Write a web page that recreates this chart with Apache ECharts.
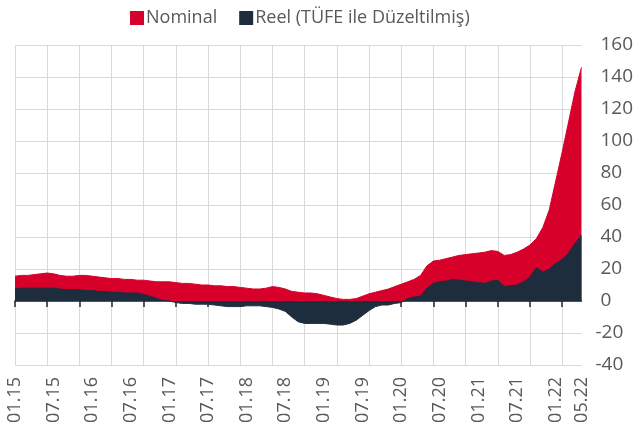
<!DOCTYPE html>
<html>
<head>
<meta charset="utf-8">
<script src="https://cdn.jsdelivr.net/npm/echarts@6/dist/echarts.min.js"></script>
<style>
html,body{margin:0;padding:0;background:#fff;}
#chart{width:636px;height:443px;}
</style>
</head>
<body>
<div id="chart"></div>
<script>
// aylar 01.15 - 05.22
var months=[];
for(var y=15;y<=22;y++){
    for(var m=1;m<=12;m++){
        if(y===22 && m>5) break;
        months.push((m<10?'0'+m:''+m)+'.'+y);
    }
}
var nominal=[15.5,16,16,16.5,17,17.5,17,16,15.5,15.5,16,16,15.5,15,14.5,14,14,13.5,13.5,13,13,12.5,12,12,
    12,11.5,11,11,10.5,10,10,9.5,9.5,9,9,8.5,8,7.5,7.5,8,9,8.5,7.5,6,5.5,5,5,4.5,
    3.5,2.5,1.5,1,1,1.5,3,4.5,5.5,6.5,7.5,9,10.5,12,13.5,16,22,25,25.5,26.5,27.5,28.5,29,29.5,
    30,30.5,31.5,31,28.5,29,30.5,32.5,35,39,46,57,75,93,112,131,146];
var reel=[7.5,8,8,8,8,8,8,7.5,7,7,7,6.5,6.5,6,6,5.5,5.5,5,5,5,4,3,1.5,0.5,
    0,-1,-1.5,-1.5,-2,-2,-2,-2.5,-3,-3.5,-3.5,-3.5,-3,-3,-3,-3.5,-4,-5,-6.5,-10,-13,-14,-14,-14,
    -14,-14.5,-15,-15,-14,-12,-9,-6,-3.5,-2.5,-2.5,-1.5,-1,1.5,2.5,3,8,11,12,12.5,13.5,13,12.5,12,
    11.5,11,12.5,13,9,9.5,10,12,15,21,18,20,23.5,26,30,36,41];
var yTicks=[-40,-20,0,20,40,60,80,100,120,140,160];

var chart=echarts.init(document.getElementById('chart'));
var gray='#595959';
var font='Open Sans';
var option={
    animation:false,
    textStyle:{fontFamily:font},
    legend:{
        top:4,
        left:125,
        icon:'rect',
        itemWidth:14,
        itemHeight:14,
        itemGap:22,
        textStyle:{fontSize:18,color:gray,fontFamily:font,padding:[0,0,0,-3]},
        data:['Nominal','Reel (TÜFE ile Düzeltilmiş)']
    },
    grid:{left:15,right:54,top:45,bottom:78},
    xAxis:[
        {
            type:'category',
            data:months,
            boundaryGap:false,
            position:'bottom',
            axisLine:{show:false,onZero:false},
            axisTick:{show:false},
            axisLabel:{
                rotate:90,
                margin:12,
                fontSize:18,
                color:gray,
                fontFamily:font,
                interval:function(i){return i%6===0 || i===months.length-1;}
            },
            splitLine:{show:true,interval:4,lineStyle:{color:'#d9d9d9',width:1}}
        },
        {
            type:'category',
            data:months,
            boundaryGap:false,
            position:'bottom',
            axisLine:{show:true,onZero:true,lineStyle:{color:'#262626',width:1.5}},
            axisTick:{show:true,interval:4,length:6,lineStyle:{color:'#262626',width:1.5}},
            axisLabel:{show:false},
            splitLine:{show:false}
        }
    ],
    yAxis:{
        type:'value',
        position:'right',
        min:yTicks[0],
        max:yTicks[yTicks.length-1],
        interval:20,
        axisLine:{show:false},
        axisTick:{show:false},
        axisLabel:{
            margin:14,
            fontSize:19,
            color:gray,
            fontFamily:font,
            formatter:function(v){return v<0 ? ''+v : ' '+v;}
        },
        splitLine:{lineStyle:{color:'#d9d9d9',width:1}}
    },
    series:[
        {
            name:'Nominal',
            type:'line',
            data:nominal,
            showSymbol:false,
            color:'#d6002a',
            lineStyle:{width:1,color:'#d6002a'},
            areaStyle:{color:'#d6002a',opacity:1}
        },
        {
            name:'Reel (TÜFE ile Düzeltilmiş)',
            type:'line',
            data:reel,
            showSymbol:false,
            color:'#1e2d3d',
            lineStyle:{width:1,color:'#1e2d3d'},
            areaStyle:{color:'#1e2d3d',opacity:1}
        }
    ]
};
chart.setOption(option);
</script>
</body>
</html>
